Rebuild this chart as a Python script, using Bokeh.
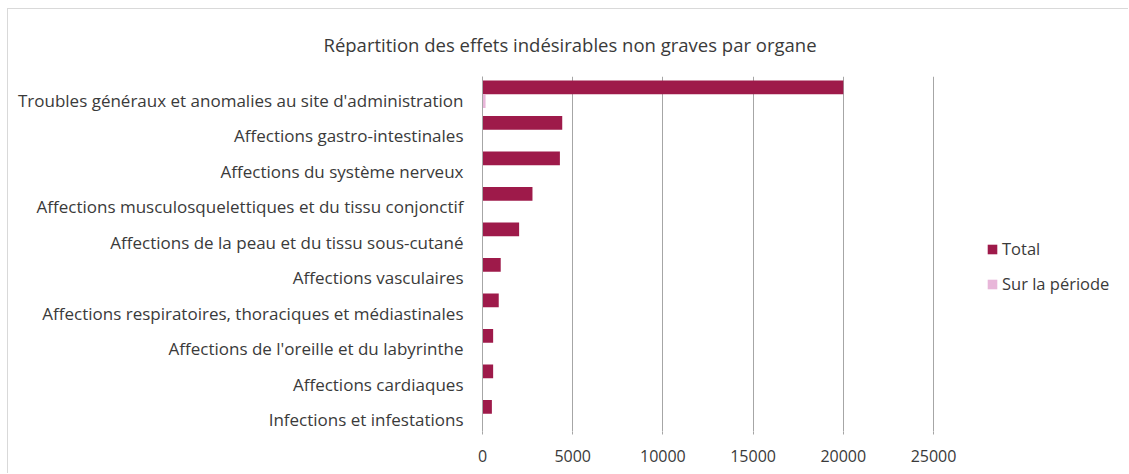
from bokeh.plotting import figure
from bokeh.models import Range1d, FixedTicker, ColumnDataSource, Legend, LegendItem, Title
from bokeh.transform import dodge
from bokeh.embed import file_html
from bokeh.resources import INLINE

categories = [
    "Troubles généraux et anomalies au site d'administration",
    "Affections gastro-intestinales",
    "Affections du système nerveux",
    "Affections musculosquelettiques et du tissu conjonctif",
    "Affections de la peau et du tissu sous-cutané",
    "Affections vasculaires",
    "Affections respiratoires, thoraciques et médiastinales",
    "Affections de l'oreille et du labyrinthe",
    "Affections cardiaques",
    "Infections et infestations",
]
total = [20000, 4420, 4290, 2770, 2030, 1010, 900, 590, 590, 520]
sur_periode = [170, 0, 0, 0, 0, 0, 0, 0, 0, 0]
x_ticks = [0, 5000, 10000, 15000, 20000, 25000]
x_max = 25000

FONT = "Open Sans"
TXT = "#3a3a3a"
C_TOTAL = "#9e1a4a"
C_PER = "#e8b6d9"
GRID = "#a6a6a6"

idx = list(range(len(categories)))
src = ColumnDataSource(dict(idx=idx, total=total, per=sur_periode))

W, H = 1121, 465
LEFT, AXIS_W = 474, 451          # frame left edge and pixel length of the 0..x_max axis
x_end = x_max * (W - LEFT) / AXIS_W  # frame extends to the right to host the legend

p = figure(width=W, height=H, output_backend="svg", toolbar_location=None,
           x_range=Range1d(0, x_end), y_range=Range1d(len(categories) - 0.67, -0.67),
           min_border_left=LEFT, min_border_right=0, min_border_top=67,
           min_border_bottom=43)
p.styles = {"border-left": "1px solid #d9d9d9", "border-top": "1px solid #d9d9d9",
            "margin-left": "7px", "margin-top": "8px"}

p.title = Title(text="Répartition des effets indésirables non graves par organe",
                align="left", offset=-159, text_font=FONT, text_font_size="18.5px",
                text_font_style="normal", text_color=TXT, standoff=39)

r1 = p.hbar(y=dodge("idx", -0.365), right="total", left=0, height=0.39, source=src,
            fill_color=C_TOTAL, line_color=None)
r2 = p.hbar(y=dodge("idx", 0.025), right="per", left=0, height=0.39, source=src,
            fill_color=C_PER, line_color=None)

# x axis
p.xaxis.ticker = FixedTicker(ticks=x_ticks)
p.xaxis.axis_line_color = None
p.xaxis.major_tick_line_color = GRID
p.xaxis.major_tick_in = 0
p.xaxis.major_tick_out = 3
p.xaxis.minor_tick_line_color = None
p.xaxis.major_label_standoff = 15
p.xaxis.major_label_text_font = FONT
p.xaxis.major_label_text_font_size = "16px"
p.xaxis.major_label_text_color = TXT

# y axis
p.yaxis.ticker = FixedTicker(ticks=idx)
p.yaxis.major_label_overrides = {i: c for i, c in zip(idx, categories)}
p.yaxis.axis_line_color = GRID
p.yaxis.major_tick_line_color = None
p.yaxis.major_tick_in = 0
p.yaxis.major_tick_out = 0
p.yaxis.minor_tick_line_color = None
p.yaxis.major_label_standoff = 19
p.yaxis.major_label_text_font = FONT
p.yaxis.major_label_text_font_size = "17px"
p.yaxis.major_label_text_color = TXT

p.xgrid.grid_line_color = GRID
p.ygrid.grid_line_color = None
p.outline_line_color = None

legend = Legend(items=[LegendItem(label="Total", renderers=[r1]),
                       LegendItem(label="Sur la période", renderers=[r2])],
                location=(504, 136), orientation="vertical",
                glyph_width=12, glyph_height=12, label_height=20, spacing=12,
                padding=0, margin=0, border_line_color=None, background_fill_alpha=0,
                label_text_font=FONT, label_text_font_size="16.5px", label_text_color=TXT,
                label_standoff=4)
p.add_layout(legend, "center")

open("out.html", "w").write(file_html(p, INLINE))
